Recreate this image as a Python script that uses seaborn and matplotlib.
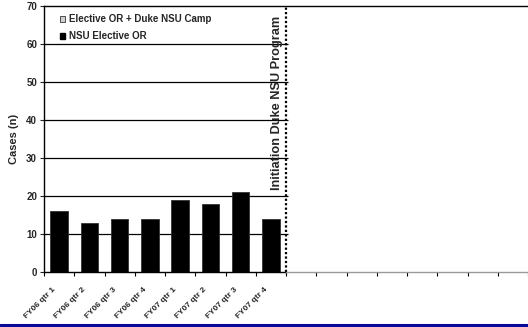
import matplotlib
matplotlib.use("Agg")
import matplotlib.pyplot as plt
from matplotlib.patches import Patch
from matplotlib.lines import Line2D
import seaborn as sns
import pandas as pd
import numpy as np

sns.set_style("white")
plt.rcParams["font.family"] = ["Liberation Sans", "DejaVu Sans"]
plt.rcParams["font.weight"] = "bold"

# Quarterly case counts
quarters = ["FY06 qtr 1", "FY06 qtr 2", "FY06 qtr 3", "FY06 qtr 4",
            "FY07 qtr 1", "FY07 qtr 2", "FY07 qtr 3", "FY07 qtr 4"]
nsu_elective_or = [16, 13, 14, 14, 19, 18, 21, 14]
n_future_slots = 8          # empty quarters after program start
y_ticks = [0, 10, 20, 30, 40, 50, 60, 70]
series_labels = ["Elective OR + Duke NSU Camp", "NSU Elective OR"]
marker_text = "Initiation Duke NSU Program"

df = pd.DataFrame({"quarter": quarters, "cases": nsu_elective_or})

fig = plt.figure(figsize=(5.28, 3.27), dpi=100)
ax = fig.add_axes([44 / 528, 1 - 272 / 327, 1 - 44 / 528, 266 / 327])

sns.barplot(data=df, x="quarter", y="cases", order=quarters, color="black",
            saturation=1, width=0.58, edgecolor="#333333", linewidth=0.6,
            ax=ax)
for bar in ax.patches:
    bar.set_zorder(3)

n_total = len(quarters) + n_future_slots
split = len(quarters) - 0.5
ax.set_xlim(-0.5, n_total - 0.5)
ax.set_ylim(y_ticks[0], y_ticks[-1])

# horizontal gridlines over the pre-program section only
ax.hlines(y_ticks[1:-1], -0.5, split + 0.06, colors="black", linewidth=0.9, zorder=1)

# program start marker
ax.vlines(split, y_ticks[0], y_ticks[-1], colors="black", linestyles=(0, (1, 1)),
          linewidth=1.6, zorder=4)
ax.text(split - 0.3, 21.6, marker_text, rotation=90, rotation_mode="anchor",
        ha="left", va="center", fontsize=9.2, fontweight="bold")

# spines
for s in ["right", "bottom"]:
    ax.spines[s].set_visible(False)
ax.spines["left"].set_color("black")
ax.spines["top"].set_color("black")
ax.spines["left"].set_linewidth(1.0)
ax.spines["top"].set_linewidth(1.0)
ax.plot([-0.5, split], [0, 0], color="black", linewidth=1.0, clip_on=False, zorder=5)
ax.plot([split, n_total - 0.5], [0, 0], color="#999999", linewidth=1.0,
        clip_on=False, zorder=5)

# ticks at category boundaries; quarter names written under each category
ax.set_xticks(np.arange(n_total + 1) - 0.5)
ax.set_xticklabels([])
ax.tick_params(axis="x", which="major", direction="out", length=3, width=0.8,
               bottom=True, colors="black")
for i, q in enumerate(quarters):
    ax.annotate(q, xy=(i, 0), xycoords="data", xytext=(-5, -10),
                textcoords="offset points", rotation=45, rotation_mode="anchor",
                ha="right", va="top", fontsize=6, fontweight="bold",
                annotation_clip=False)

ax.set_yticks(y_ticks)
ax.set_yticklabels([str(v) for v in y_ticks], fontsize=7, fontweight="bold")
ax.tick_params(axis="y", direction="out", length=3, width=0.8, left=True, pad=2)

ax.set_xlabel("")
ax.set_ylabel("Cases (n)", fontsize=8, fontweight="bold", labelpad=5)

handles = [Patch(facecolor="#d0d0d0", edgecolor="#333333", linewidth=0.6),
           Patch(facecolor="black", edgecolor="black")]
ax.legend(handles, series_labels, loc="upper left", bbox_to_anchor=(0.012, 1.005),
          frameon=False, handlelength=0.6, handleheight=0.6,
          handletextpad=0.4, labelspacing=0.7, borderaxespad=0.6,
          prop={"weight": "bold", "size": 7})

# blue rule along the bottom of the figure
fig.add_artist(Line2D([0, 1], [0.005, 0.005], color="#0a0a9a", linewidth=2.2,
                      transform=fig.transFigure))

fig.savefig("out.png", dpi=100)
